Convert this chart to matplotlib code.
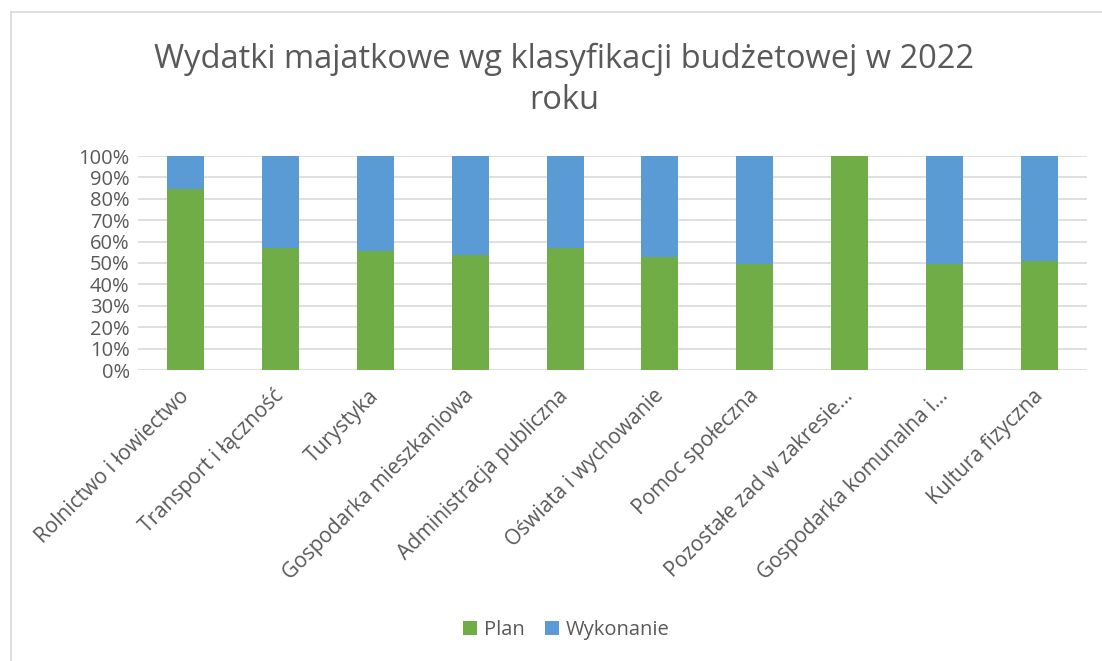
import matplotlib.pyplot as plt
import numpy as np
from matplotlib.ticker import PercentFormatter
from matplotlib.lines import Line2D
from matplotlib.transforms import ScaledTranslation

categories = ["Rolnictwo i łowiectwo", "Transport i łączność", "Turystyka",
              "Gospodarka mieszkaniowa", "Administracja publiczna",
              "Oświata i wychowanie", "Pomoc społeczna", "Pozostałe zad w zakresie…",
              "Gospodarka komunalna i…", "Kultura fizyczna"]
plan = [84.8, 56.9, 55.5, 53.8, 57.2, 53.0, 49.7, 100.0, 49.7, 50.9]
wykonanie = [100 - p for p in plan]

plt.rcParams['font.family'] = ['Open Sans', 'DejaVu Sans']
text_col = '#595959'
W, H = 1102, 661

fig = plt.figure(figsize=(W / 100, H / 100), dpi=100)
ax = fig.add_axes([138 / W, 1 - 370 / H, 949 / W, 214 / H])

x = np.arange(len(categories))
ax.bar(x, plan, width=0.39, color='#70AD47', label='Plan', zorder=3)
ax.bar(x, wykonanie, width=0.39, bottom=plan, color='#5B9BD5', label='Wykonanie', zorder=3)

ax.set_xlim(-0.5, len(categories) - 0.5)
ax.set_ylim(0, 100)
ax.set_yticks(np.arange(0, 101, 10))
ax.yaxis.set_major_formatter(PercentFormatter(decimals=0))
ax.grid(axis='y', color='#D9D9D9', linewidth=1.2, zorder=0)
for s in ax.spines.values():
    s.set_visible(False)
ax.tick_params(axis='y', length=0, labelsize=14.5, colors=text_col, pad=6)
ax.tick_params(axis='x', length=0, labelsize=15, colors=text_col, pad=4)
ax.set_xticks(x)
ax.set_xticklabels(categories, rotation=45, ha='right', rotation_mode='anchor')
shift = ScaledTranslation(-7 / 100, -10 / 100, fig.dpi_scale_trans)
for lbl in ax.get_xticklabels():
    lbl.set_transform(lbl.get_transform() + shift)

fig.text(0.512, 1 - 80 / H, "Wydatki majatkowe wg klasyfikacji budżetowej w 2022\nroku",
         ha='center', va='center', fontsize=23.5, color=text_col, linespacing=1.3)

fig.legend(loc='center', bbox_to_anchor=(0.514, 1 - 630 / H), ncol=2, frameon=False,
           fontsize=14.5, labelcolor=text_col, handlelength=0.7, handleheight=0.7,
           columnspacing=1.0, handletextpad=0.35)

# chart area border (top and left edges visible)
fig.add_artist(Line2D([10.5 / W, 1], [1 - 11.5 / H, 1 - 11.5 / H], color='#D9D9D9',
                      linewidth=1.2, transform=fig.transFigure))
fig.add_artist(Line2D([10.5 / W, 10.5 / W], [0, 1 - 11.5 / H], color='#D9D9D9',
                      linewidth=1.2, transform=fig.transFigure))

plt.savefig('out.png', dpi=100)
